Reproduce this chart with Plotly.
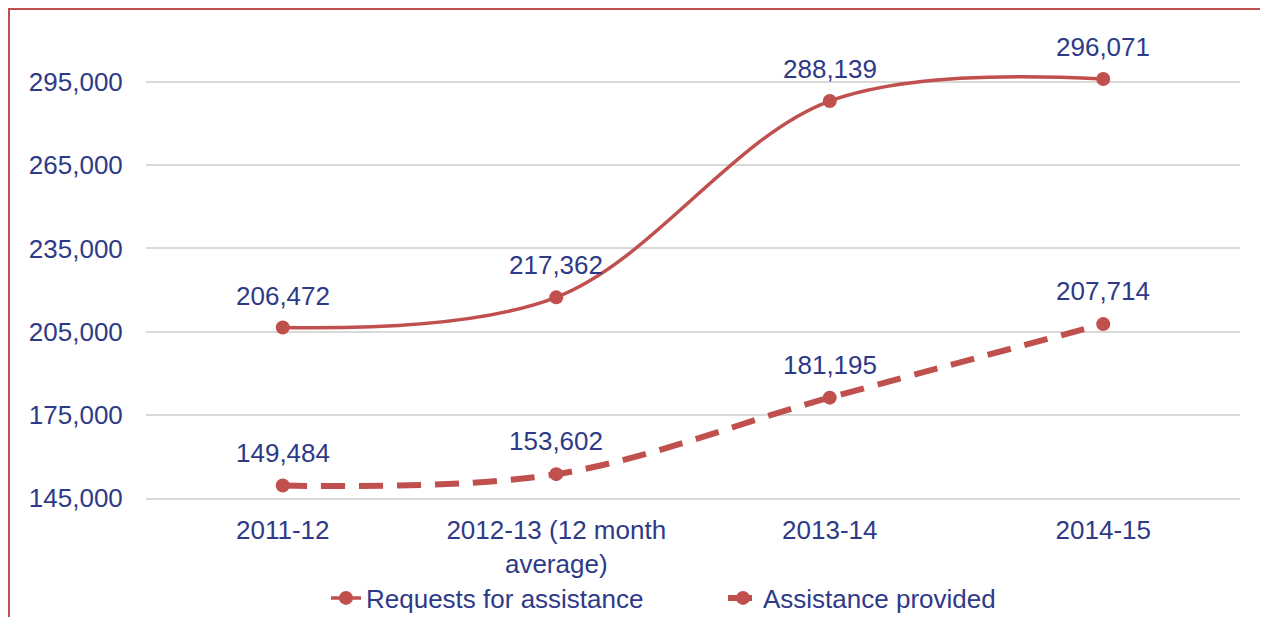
import plotly.graph_objects as go

categories = ["2011-12", "2012-13 (12 month<br>average)", "2013-14", "2014-15"]
requests = [206472, 217362, 288139, 296071]
provided = [149484, 153602, 181195, 207714]
tick_vals = [145000, 175000, 205000, 235000, 265000, 295000]
tick_text = ["145,000", "175,000", "205,000", "235,000", "265,000", "295,000"]

RED = "#C0504D"
NAVY = "#2E3A87"
FONT = "Liberation Sans, Arial, sans-serif"
FS = 26

xs = list(range(len(categories)))

fig = go.Figure()
fig.add_trace(go.Scatter(
    x=xs, y=requests, name="Requests for assistance", mode="lines+markers",
    line=dict(color=RED, width=3.5, shape="spline", smoothing=1.0),
    marker=dict(color=RED, size=14),
))
fig.add_trace(go.Scatter(
    x=xs, y=provided, name="Assistance provided", mode="lines+markers",
    line=dict(color=RED, width=6, shape="spline", smoothing=1.0, dash="24px,14px"),
    marker=dict(color=RED, size=14),
))

annots = []
for xi, v in zip(xs, requests):
    annots.append(dict(x=xi, y=v, text=f"{v:,}", showarrow=False, yshift=32,
                       font=dict(family=FONT, size=FS, color=NAVY)))
for xi, v in zip(xs, provided):
    annots.append(dict(x=xi, y=v, text=f"{v:,}", showarrow=False, yshift=33,
                       font=dict(family=FONT, size=FS, color=NAVY)))

# page has an 8px body margin; figure coordinates = page coordinates - 8
OFF = 8
W, H = 1268 - OFF, 617 - OFF
l = 146 - OFF
r = W - (1240 - OFF)
b = H - (498 - OFF)
t = 36 - OFF
pw, ph = W - l - r, H - t - b

def px_x(p):
    return (p - OFF - l) / pw

def px_y(p):
    return (H - b - (p - OFF)) / ph

fig.add_shape(type="rect", xref="paper", yref="paper",
              x0=px_x(9), x1=px_x(1266.5), y0=px_y(660), y1=px_y(9),
              line=dict(color=RED, width=2), layer="below")

fig.update_layout(
    width=W, height=H,
    margin=dict(l=l, r=r, t=t, b=b, autoexpand=False),
    paper_bgcolor="white", plot_bgcolor="white",
    font=dict(family=FONT, size=FS, color=NAVY),
    showlegend=True,
    legend=dict(orientation="h", x=px_x(326), xanchor="left", y=px_y(598), yanchor="middle",
                font=dict(family=FONT, size=FS, color=NAVY),
                entrywidth=352, entrywidthmode="pixels",
                bgcolor="rgba(0,0,0,0)"),
    annotations=annots,
    xaxis=dict(tickmode="array", tickvals=xs, ticktext=categories,
               range=[-0.5, 3.5], showgrid=False, zeroline=False,
               showline=True, linecolor="#D9D9D9", linewidth=1.5,
               ticks="outside", ticklen=8, tickcolor="rgba(0,0,0,0)",
               tickfont=dict(family=FONT, size=FS, color=NAVY)),
    yaxis=dict(range=[145000, 311600], tickvals=tick_vals, ticktext=tick_text,
               showgrid=True, gridcolor="#D9D9D9", gridwidth=1.5, zeroline=False,
               showline=False, ticks="outside", ticklen=17, tickcolor="rgba(0,0,0,0)",
               tickfont=dict(family=FONT, size=FS, color=NAVY)),
)

fig.write_html("out.html")
